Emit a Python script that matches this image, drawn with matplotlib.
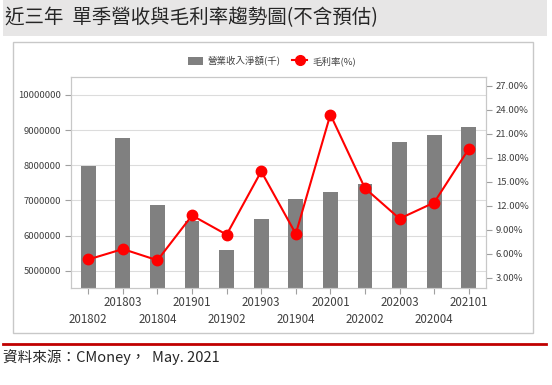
import matplotlib
matplotlib.use("Agg")
import matplotlib.pyplot as plt
from matplotlib.patches import Rectangle
from matplotlib.lines import Line2D
from matplotlib.ticker import FuncFormatter, FixedLocator, FixedFormatter

plt.rcParams['font.family'] = ['Noto Sans CJK TC', 'DejaVu Sans']

categories = ["201802", "201803", "201804", "201901", "201902", "201903",
              "201904", "202001", "202002", "202003", "202004", "202101"]
revenue = [7970000, 8780000, 6860000, 6420000, 5590000, 6460000,
           7040000, 7230000, 7460000, 8650000, 8860000, 9080000]
gross_margin = [5.3, 6.6, 5.2, 10.8, 8.4, 16.3, 8.5, 23.4, 14.2, 10.4, 12.4, 19.1]
left_ticks = [5000000, 6000000, 7000000, 8000000, 9000000, 10000000]
right_ticks = [3, 6, 9, 12, 15, 18, 21, 24, 27]

title = "近三年  單季營收與毛利率趨勢圖(不含預估)"
source = "資料來源：CMoney，  May. 2021"
legend_labels = ["營業收入淨額(千)", "毛利率(%)"]

W, H = 552, 385
fig = plt.figure(figsize=(W / 100, H / 100), dpi=100)

def fx(px):
    return px / W

def fy(py):
    return 1 - py / H

# title bar
fig.patches.append(Rectangle((fx(3), fy(36)), fx(547) - fx(3), fy(0) - fy(36),
                             transform=fig.transFigure, facecolor="#e7e6e6",
                             edgecolor="none", zorder=0))
fig.text(fx(5), fy(18), title, fontsize=14, color="#262626", va="center", ha="left")

# chart border
fig.patches.append(Rectangle((fx(13), fy(333)), fx(533) - fx(13), fy(42) - fy(333),
                             transform=fig.transFigure, facecolor="none",
                             edgecolor="#c8c8c8", linewidth=1, zorder=0))

# source line + text
fig.add_artist(Line2D([fx(3), fx(546)], [fy(344), fy(344)], transform=fig.transFigure,
                      color="#c00000", linewidth=2))
fig.text(fx(3), fy(357), source, fontsize=10.5, color="#262626", va="center", ha="left")

ax = fig.add_axes([fx(71), fy(288.3), fx(486) - fx(71), fy(77.3) - fy(288.3)])
x = list(range(len(categories)))
ax.bar(x, revenue, width=0.43, color="#808080", zorder=2)
ax.set_xlim(-0.5, len(categories) - 0.5)
ax.set_ylim(4500000, 10500000)
ax.set_yticks(left_ticks)
ax.set_yticklabels([str(v) for v in left_ticks])
ax.grid(axis="y", color="#dcdcdc", linewidth=0.8, zorder=0)
ax.set_axisbelow(True)

# staggered category labels: even index -> lower row (major), odd -> upper row (minor)
lower_pos = [i for i in x if i % 2 == 0]
upper_pos = [i for i in x if i % 2 == 1]
ax.xaxis.set_major_locator(FixedLocator(lower_pos))
ax.xaxis.set_major_formatter(FixedFormatter([categories[i] for i in lower_pos]))
ax.xaxis.set_minor_locator(FixedLocator(upper_pos))
ax.xaxis.set_minor_formatter(FixedFormatter([categories[i] for i in upper_pos]))
ax.tick_params(axis="x", which="major", length=4, color="#a0a0a0", labelsize=8.3,
               labelcolor="#404040", pad=13.8)
ax.tick_params(axis="x", which="minor", length=4, color="#a0a0a0", labelsize=8.3,
               labelcolor="#404040", pad=1.6, width=0.8)
ax.tick_params(axis="y", length=4, color="#a0a0a0", labelsize=6.8, labelcolor="#404040", pad=3)
for s in ax.spines.values():
    s.set_color("#c8c8c8")
    s.set_linewidth(0.8)

ax2 = ax.twinx()
ax2.plot(x, gross_margin, color="#ff0000", linewidth=1.5, marker="o",
         markersize=7.5, zorder=3)
ax2.set_ylim(1.7, 28.05)
ax2.set_yticks(right_ticks)
ax2.yaxis.set_major_formatter(FuncFormatter(lambda v, p: f"{v:.2f}%"))
ax2.tick_params(axis="y", length=4, color="#a0a0a0", labelsize=6.8, labelcolor="#404040", pad=3)
for s in ax2.spines.values():
    s.set_color("#c8c8c8")
    s.set_linewidth(0.8)

handles = [Rectangle((0, 0), 1, 1, facecolor="#808080", edgecolor="none"),
           Line2D([], [], color="#ff0000", linewidth=1.5, marker="o", markersize=7)]
fig.legend(handles, legend_labels, loc="center", bbox_to_anchor=(fx(272), fy(61)),
           ncol=2, frameon=False, fontsize=6.8, labelcolor="#404040",
           handlelength=1.6, handleheight=1.0, handletextpad=0.5, columnspacing=1.2)

fig.savefig("out.png", dpi=100)
